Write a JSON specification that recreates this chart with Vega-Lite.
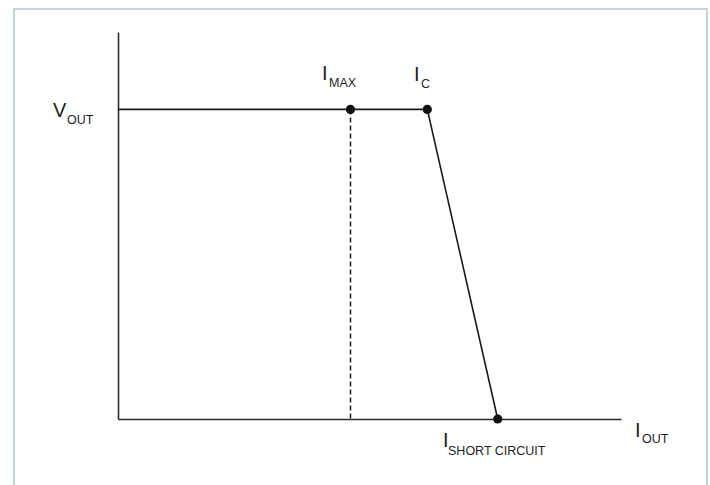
{
  "$schema": "https://vega.github.io/schema/vega-lite/v6.json",
  "width": 503,
  "height": 387,
  "autosize": {"type": "none"},
  "padding": {"left": 118, "top": 32, "right": 89, "bottom": 66},
  "background": "white",
  "config": {
    "view": {"stroke": null},
    "axis": {"domain": true, "domainColor": "#2b2b2b", "domainWidth": 1.6, "ticks": false, "labels": false, "grid": false}
  },
  "datasets": {
    "frame": [{"x": -2.068, "x2": 11.71, "y": -1.964, "y2": 10.594}],
    "curve": [
      {"x": 0, "y": 8, "o": 1},
      {"x": 6.149, "y": 8, "o": 2},
      {"x": 7.549, "y": 0, "o": 3}
    ],
    "dash": [{"x": 4.622, "y": 8, "y2": 0}],
    "dots": [
      {"x": 4.622, "y": 8},
      {"x": 6.149, "y": 8},
      {"x": 7.549, "y": 0}
    ],
    "main": [
      {"x": -1.292, "y": 7.804, "t": "V"},
      {"x": 4.056, "y": 8.76, "t": "I"},
      {"x": 5.885, "y": 8.734, "t": "I"},
      {"x": 6.461, "y": -0.724, "t": "I"},
      {"x": 10.278, "y": -0.465, "t": "I"}
    ],
    "sub": [
      {"x": -1.014, "y": 7.623, "t": "OUT"},
      {"x": 4.195, "y": 8.579, "t": "MAX"},
      {"x": 6.024, "y": 8.553, "t": "C"},
      {"x": 6.561, "y": -0.93, "t": "SHORT CIRCUIT"},
      {"x": 10.417, "y": -0.62, "t": "OUT"}
    ]
  },
  "encoding": {
    "x": {"field": "x", "type": "quantitative", "scale": {"domain": [0, 10], "nice": false, "zero": false}, "axis": {"title": null}},
    "y": {"field": "y", "type": "quantitative", "scale": {"domain": [0, 10], "nice": false, "zero": false}, "axis": {"title": null}}
  },
  "layer": [
    {
      "data": {"name": "frame"},
      "mark": {"type": "rect", "filled": false, "color": "#c2d5da", "strokeWidth": 2},
      "encoding": {"x2": {"field": "x2"}, "y2": {"field": "y2"}}
    },
    {
      "data": {"name": "curve"},
      "mark": {"type": "line", "color": "#1a1a1a", "strokeWidth": 1.6},
      "encoding": {"order": {"field": "o", "type": "quantitative"}}
    },
    {
      "data": {"name": "dash"},
      "mark": {"type": "rule", "strokeDash": [5, 3], "strokeWidth": 1.5, "color": "#1a1a1a"},
      "encoding": {"y2": {"field": "y2"}}
    },
    {
      "data": {"name": "dots"},
      "mark": {"type": "point", "filled": true, "size": 85, "color": "#111111", "opacity": 1}
    },
    {
      "data": {"name": "main"},
      "mark": {"type": "text", "align": "left", "baseline": "alphabetic", "fontSize": 20, "font": "Liberation Sans", "color": "#231f20"},
      "encoding": {"text": {"field": "t"}}
    },
    {
      "data": {"name": "sub"},
      "mark": {"type": "text", "align": "left", "baseline": "alphabetic", "fontSize": 12.5, "font": "Liberation Sans", "color": "#231f20"},
      "encoding": {"text": {"field": "t"}}
    }
  ]
}
